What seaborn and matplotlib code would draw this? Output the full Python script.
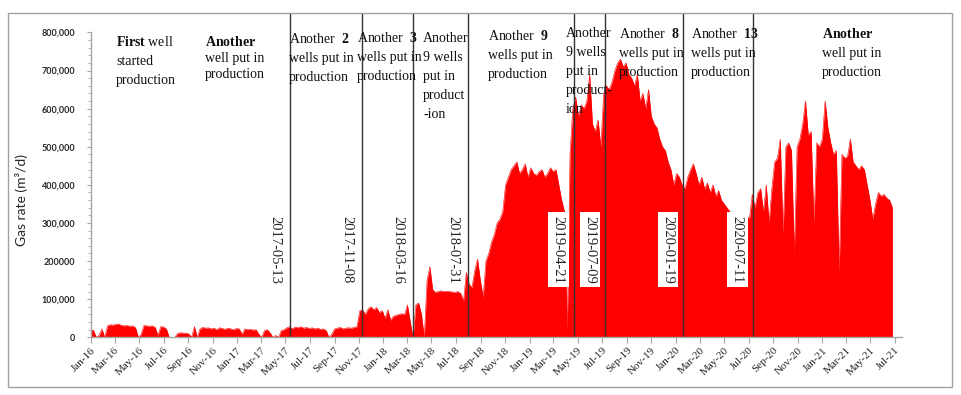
import numpy as np
import pandas as pd
import seaborn as sns
import matplotlib.pyplot as plt
import matplotlib.dates as mdates
from matplotlib.patches import Rectangle

#### weekly gas rate (thousand m3/d), starting 2016-01-01
rate_k = [20, 18, 0, 5, 22, 0, 30, 33, 32, 34, 35, 31, 30, 31, 29, 30, 25, 0, 8, 31,
          30, 29, 30, 26, 5, 28, 27, 22, 0, 0, 0, 10, 12, 11, 11, 9, 0, 28, 0, 22,
          26, 24, 25, 22, 24, 20, 25, 23, 21, 24, 22, 20, 23, 22, 8, 22, 20, 21, 19, 20,
          8, 0, 18, 20, 12, 0, 5, 0, 18, 20, 25, 28, 22, 27, 25, 28, 24, 26, 23, 25,
          22, 24, 21, 22, 18, 0, 8, 22, 24, 26, 22, 24, 25, 24, 26, 28, 70, 72, 60, 75,
          80, 72, 78, 65, 70, 50, 72, 45, 55, 58, 60, 62, 60, 85, 40, 0, 85, 90, 60, 0,
          150, 185, 125, 118, 120, 122, 120, 121, 120, 119, 118, 120, 115, 95, 170, 140, 130, 175, 205, 150,
          105, 200, 220, 250, 270, 300, 310, 330, 400, 420, 440, 450, 460, 430, 440, 455, 420, 445, 430, 425,
          435, 440, 420, 430, 445, 435, 440, 400, 360, 330, 20, 480, 600, 630, 580, 610, 600, 620, 690, 560,
          540, 570, 500, 640, 660, 650, 670, 700, 720, 730, 710, 720, 690, 680, 660, 690, 620, 640, 600, 650,
          580, 560, 550, 520, 500, 490, 460, 440, 400, 430, 420, 400, 390, 420, 440, 455, 430, 400, 420, 390,
          405, 380, 400, 370, 385, 360, 350, 340, 330, 320, 310, 300, 320, 325, 320, 310, 375, 340, 380, 390,
          330, 400, 300, 390, 460, 470, 520, 270, 500, 510, 490, 220, 500, 520, 560, 620, 530, 540, 300, 510,
          500, 520, 620, 550, 510, 480, 490, 170, 480, 470, 475, 520, 460, 450, 440, 450, 440, 400, 360, 310,
          350, 380, 370, 375, 365, 360, 340]
dates = pd.date_range('2016-01-01', periods=len(rate_k), freq='7D')
rates = np.array(rate_k) * 1000

# dates when new wells came on stream
event_dates = ['2017-05-13', '2017-11-08', '2018-03-16', '2018-07-31',
               '2019-04-21', '2019-07-09', '2020-01-19', '2020-07-11']
boxed = [False, False, False, False, True, True, True, True]

ytick_vals = [0, 100000, 200000, 300000, 400000, 500000, 600000, 700000, 800000]
ytick_labels = ['0', '100,000', '200000', '300,000', '400,000', '500,000',
                '600,000', '700,000', '800,000']

# section notes (text, left px, top px, line spacing)
notes = [
    ('$\\mathbf{First}$ well\nstarted\nproduction', 116, 35, 1.6),
    ('$\\mathbf{Another}$\nwell put in\nproduction', 205, 35, 1.3),
    ('Another  $\\mathbf{2}$\nwells put in\nproduction', 289, 32, 1.6),
    ('Another  $\\mathbf{3}$\nwells put in\nproduction', 357, 31, 1.6),
    ('Another\n9 wells\nput in\nproduct\n-ion', 423, 32, 1.6),
    ('Another  $\\mathbf{9}$\nwells put in\nproduction', 488, 29, 1.6),
    ('Another\n9 wells\nput in\nproduct-\nion', 566, 27, 1.6),
    ('Another  $\\mathbf{8}$\nwells put in\nproduction', 619, 27, 1.6),
    ('Another  $\\mathbf{13}$\nwells put in\nproduction', 691, 27, 1.6),
    ('$\\mathbf{Another}$\nwell put in\nproduction', 822, 27, 1.6),
]

sns.set_style('white')
plt.rcParams['font.family'] = ['Liberation Serif', 'DejaVu Serif']
plt.rcParams['mathtext.fontset'] = 'custom'
plt.rcParams['mathtext.rm'] = 'Liberation Serif'
plt.rcParams['mathtext.bf'] = 'Liberation Serif:bold'

W, H = 962, 395
fig = plt.figure(figsize=(W / 100, H / 100), dpi=100)
x0, x1, y0, y1 = 90.7, 902, 13, 337.3
ax = fig.add_axes([x0 / W, 1 - y1 / H, (x1 - x0) / W, (y1 - y0) / H])

ax.fill_between(dates, rates, color='#ff0000', lw=0)
sns.lineplot(x=dates, y=rates, color='#ff0000', lw=0.4, ax=ax)

ax.set_xlim(pd.Timestamp('2016-01-01'), pd.Timestamp('2021-07-19'))
ax.set_ylim(0, 851000)

for d, b in zip(event_dates, boxed):
    t = pd.Timestamp(d)
    ax.axvline(t, color='#333333', lw=1)
    kw = dict(boxstyle='square,pad=0.25', fc='white', ec='none') if b else None
    ax.annotate(d, xy=(t, 230000), xytext=(-11, 0), textcoords='offset points',
                rotation=-90, ha='center', va='center', fontsize=10.5, bbox=kw)

for txt, px, py, ls in notes:
    ax.text((px - x0) / (x1 - x0), (y1 - py) / (y1 - y0), txt, transform=ax.transAxes,
            ha='left', va='top', fontsize=10, linespacing=ls, color='#111111')

# axes styling
for s in ['top', 'right']:
    ax.spines[s].set_visible(False)
for s in ['left', 'bottom']:
    ax.spines[s].set_color('#a6a6a6')
    ax.spines[s].set_linewidth(1)
ax.spines['left'].set_bounds(0, 800000)

ax.set_yticks(ytick_vals)
ax.set_yticklabels(ytick_labels, fontfamily='Lato', fontweight='bold', fontsize=6.5)
ax.set_yticks(np.arange(0, 800001, 20000), minor=True)
ax.tick_params(axis='y', which='major', length=3, color='#a6a6a6', pad=8, left=True)
ax.tick_params(axis='y', which='minor', length=2, color='#a6a6a6', left=True)

ax.xaxis.set_major_locator(mdates.MonthLocator(bymonth=[1, 3, 5, 7, 9, 11]))
ax.xaxis.set_major_formatter(mdates.DateFormatter('%b-%y'))
ax.tick_params(axis='x', which='major', length=4, color='#a6a6a6', pad=2, bottom=True,
               labelsize=8)
for lab in ax.get_xticklabels():
    lab.set_rotation(45)
    lab.set_ha('right')
    lab.set_rotation_mode('anchor')

ax.set_xlabel('')
ax.set_ylabel('')
fig.text(22 / W, 1 - 200 / H, 'Gas rate (m³/d)', rotation=90, ha='center', va='center',
         fontfamily='Lato', fontsize=10)

# chart-area frame
fig.patches.append(Rectangle((8 / W, 1 - 387 / H), 944 / W, 374.5 / H, transform=fig.transFigure,
                             fill=False, ec='#a0a0a0', lw=1))

fig.savefig('out.png', dpi=100)
